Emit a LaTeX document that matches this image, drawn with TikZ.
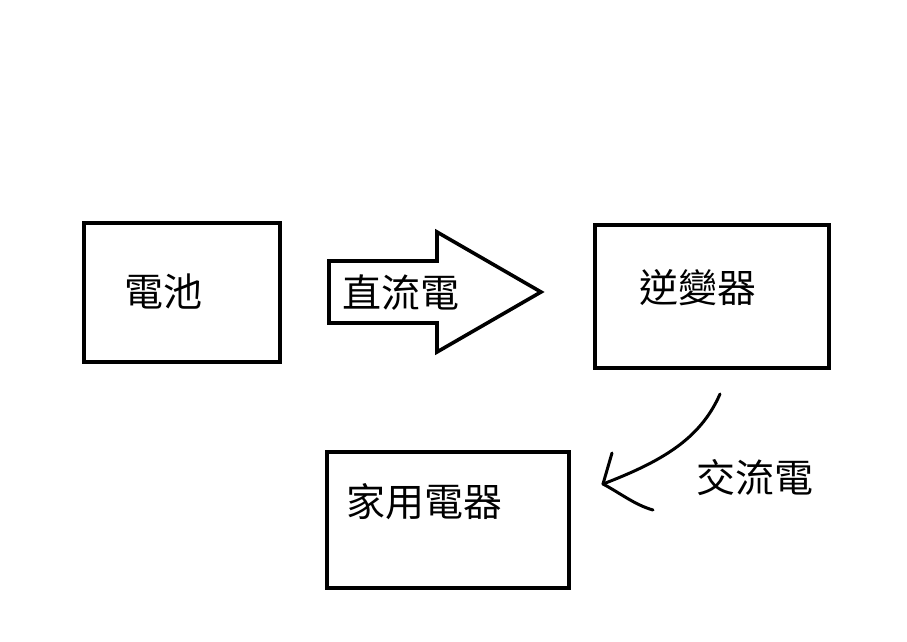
\documentclass[tikz,border=0pt]{standalone}
\usepackage{fontspec}
\newfontfamily\cjk{Noto Sans CJK TC}
\begin{document}
\begin{tikzpicture}[x=1pt,y=-1pt,
  box/.style={draw=black,line width=4pt},
  lbl/.style={font=\cjk\fontsize{39}{42}\selectfont,inner sep=0pt},
  hand/.style={draw=black,line width=3pt,line cap=round,line join=round}]
\useasboundingbox (0,0) rectangle (907,642);
\draw[box] (84,223) rectangle (280,362);
\node[lbl] (bat) at (163,292) {電池};
\draw[box] (595,225) rectangle (829,368);
\node[lbl] (inv) at (698,288) {逆變器};
\draw[box] (327,452) rectangle (569,588);
\node[lbl] (app) at (424,502) {家用電器};
\draw[draw=black,line width=3.6pt,line join=miter]
  (329,261) -- (437,261) -- (437,232) -- (541,292) -- (437,352) -- (437,323) -- (329,323) -- cycle;
\node[lbl] (dc) at (401,293) {直流電};
\node[lbl] (ac) at (755,478) {交流電};
\coordinate (cs) at (720,394);
\coordinate (ce) at (603,484);
\coordinate (h1) at (612,453);
\coordinate (h2) at (653,510);
\draw[hand] (cs) .. controls (700,440) and (660,462) .. (ce);
\draw[hand] (h1) -- (ce);
\draw[hand] (ce) .. controls (620,493) and (635,505) .. (h2);
\end{tikzpicture}
\end{document}
